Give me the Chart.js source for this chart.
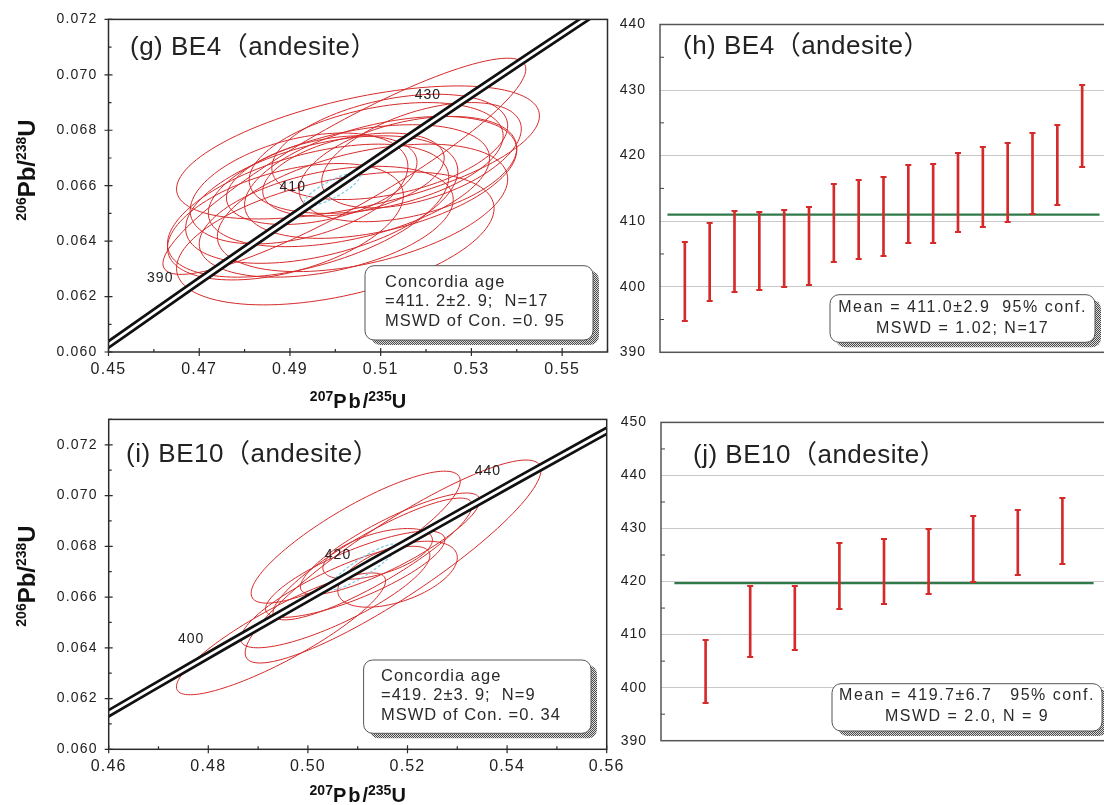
<!DOCTYPE html>
<html>
<head>
<meta charset="utf-8">
<title>BE4 / BE10 zircon U-Pb ages</title>
<script src="https://cdn.jsdelivr.net/npm/chart.js@4.4.1/dist/chart.umd.min.js"></script>
<style>
  html, body { margin: 0; padding: 0; background: #fff; }
  body { width: 1104px; height: 805px; overflow: hidden; position: relative; }
  canvas { position: absolute; }
</style>
</head>
<body>
<canvas id="chartG" width="640" height="412" style="left:0;top:0"></canvas>
<canvas id="chartH" width="520" height="400" style="left:600px;top:0"></canvas>
<canvas id="chartI" width="640" height="405" style="left:0;top:400px"></canvas>
<canvas id="chartJ" width="520" height="405" style="left:600px;top:400px"></canvas>
<script>
// ---- data ----
// concordia curve nodes (Ma) and labelled ages
const CONCORDIA_AGES = [360, 370, 380, 390, 400, 410, 420, 430, 440, 450, 460, 470];
const G_AGE_MARKS = [390, 410, 430];
const I_AGE_MARKS = [400, 420, 440];

// axis ticks
const G_X_TICKS = [0.45, 0.47, 0.49, 0.51, 0.53, 0.55];
const G_Y_TICKS = [0.060, 0.062, 0.064, 0.066, 0.068, 0.070, 0.072];
const I_X_TICKS = [0.46, 0.48, 0.50, 0.52, 0.54, 0.56];
const I_Y_TICKS = [0.060, 0.062, 0.064, 0.066, 0.068, 0.070, 0.072];
const H_Y_TICKS = [390, 400, 410, 420, 430, 440];
const J_Y_TICKS = [390, 400, 410, 420, 430, 440, 450];

// BE4 spot ellipses: 207Pb/235U, 206Pb/238U, 2-sigma half widths, error correlation
const G_ELL_X = [0.502, 0.505, 0.500, 0.489, 0.497, 0.503, 0.492, 0.510, 0.509, 0.506, 0.512, 0.498, 0.494, 0.516, 0.504, 0.497, 0.519];
const G_ELL_Y = [0.0667, 0.0672, 0.0641, 0.0647, 0.0655, 0.0660, 0.0659, 0.0663, 0.0670, 0.0652, 0.0674, 0.0647, 0.0651, 0.0666, 0.0664, 0.0662, 0.0671];
const G_ELL_SX = [0.040, 0.040, 0.035, 0.026, 0.030, 0.031, 0.024, 0.030, 0.028, 0.032, 0.026, 0.028, 0.031, 0.024, 0.020, 0.021, 0.022];
const G_ELL_SY = [0.0039, 0.0024, 0.0024, 0.0021, 0.0023, 0.0022, 0.0020, 0.0022, 0.0020, 0.0023, 0.0019, 0.0020, 0.0024, 0.0019, 0.0015, 0.0016, 0.0019];
const G_ELL_RHO = [0.90, 0.55, 0.45, 0.45, 0.45, 0.45, 0.40, 0.45, 0.40, 0.45, 0.40, 0.40, 0.50, 0.40, 0.40, 0.40, 0.50];

// BE10 spot ellipses
const I_ELL_X = [0.4946, 0.5096, 0.5171, 0.5055, 0.5130, 0.5165, 0.5095, 0.5140, 0.5180];
const I_ELL_Y = [0.06455, 0.06836, 0.0674, 0.0660, 0.0675, 0.0681, 0.0669, 0.0677, 0.0669];
const I_ELL_SX = [0.021, 0.021, 0.0297, 0.019, 0.020, 0.018, 0.018, 0.011, 0.012];
const I_ELL_SY = [0.0024, 0.0026, 0.0040, 0.0020, 0.0024, 0.0020, 0.0017, 0.0010, 0.0013];
const I_ELL_RHO = [0.87, 0.85, 0.90, 0.82, 0.88, 0.85, 0.80, 0.55, 0.50];

// concordia ages
const G_CONC_AGE = 411.2;
const I_CONC_AGE = 419.2;

// 206Pb/238U ages, lower and upper ends of each error bar (Ma)
const H_LOW = [394.8, 397.9, 399.2, 399.5, 399.9, 400.2, 403.7, 404.3, 404.7, 406.6, 406.6, 408.3, 409.1, 409.8, 411.1, 412.5, 418.2];
const H_HIGH = [406.8, 409.7, 411.6, 411.4, 411.7, 412.2, 415.7, 416.3, 416.7, 418.6, 418.7, 420.4, 421.3, 421.9, 423.4, 424.7, 430.7];
const H_MEAN = 411.0;
const J_LOW = [397.2, 405.8, 407.1, 414.9, 415.8, 417.7, 420.0, 421.2, 423.3];
const J_HIGH = [409.0, 419.2, 419.2, 427.2, 428.1, 429.9, 432.4, 433.5, 435.8];
const J_MEAN = 419.7;

// ---- helpers ----
const FONT = "'Liberation Sans', Arial, 'Noto Sans CJK SC', sans-serif";
const RED = '#d62a2a';
const INK = '#222';
const LAMBDA_238 = 1.55125e-10;
const LAMBDA_235 = 9.8485e-10;

function concordiaPoint(ageMa) {
    return {
        x: Math.exp(LAMBDA_235 * ageMa * 1e6) - 1,
        y: Math.exp(LAMBDA_238 * ageMa * 1e6) - 1
    };
}

function strokeEllipse(ctx, xs, ys, cx, cy, sx, sy, rho) {
    const k = Math.sqrt(1 - rho * rho);
    ctx.beginPath();
    for (let i = 0; i <= 120; i++) {
        const a = i / 120 * Math.PI * 2;
        const px = xs.getPixelForValue(cx + sx * Math.cos(a));
        const py = ys.getPixelForValue(cy + sy * (rho * Math.cos(a) + k * Math.sin(a)));
        if (i === 0) ctx.moveTo(px, py); else ctx.lineTo(px, py);
    }
    ctx.closePath();
    ctx.stroke();
}

function minorTicks(majors, min, max) {
    const half = (majors[1] - majors[0]) / 2;
    const out = [];
    majors.forEach(v => {
        [v - half, v + half].forEach(m => {
            if (m > min + 1e-9 && m < max + 1e-9 && !out.some(o => Math.abs(o - m) < 1e-9)) out.push(m);
        });
    });
    return out;
}

function stipple(ctx) {
    const c = document.createElement('canvas');
    c.width = 2; c.height = 2;
    const p = c.getContext('2d');
    p.fillStyle = '#dcdcdc'; p.fillRect(0, 0, 2, 2);
    p.fillStyle = '#4a4a4a'; p.fillRect(0, 0, 1, 1); p.fillRect(1, 1, 1, 1);
    return ctx.createPattern(c, 'repeat');
}

function drawNoteBox(ctx, b, lines, o) {
    ctx.save();
    ctx.fillStyle = stipple(ctx);
    ctx.beginPath(); ctx.roundRect(b.x + 6, b.y + 5, b.w, b.h, 9); ctx.fill();
    ctx.fillStyle = '#fff'; ctx.strokeStyle = '#555'; ctx.lineWidth = 1;
    ctx.beginPath(); ctx.roundRect(b.x, b.y, b.w, b.h, 9); ctx.fill(); ctx.stroke();
    ctx.fillStyle = '#2a2a2a';
    ctx.font = o.font; ctx.letterSpacing = o.sp + 'px';
    ctx.textBaseline = 'middle'; ctx.textAlign = o.align;
    lines.forEach((t, i) => {
        const tx = o.align === 'center' ? b.x + b.w / 2 : b.x + o.pad;
        ctx.fillText(t, tx, b.y + o.top + i * o.lh);
    });
    ctx.restore();
}

// text made of runs with different sizes (isotope superscripts)
function drawRuns(ctx, runs, cx, baseY) {
    let total = 0;
    runs.forEach(r => {
        ctx.font = r.font; ctx.letterSpacing = (r.sp || 0) + 'px';
        r.w = ctx.measureText(r.t).width; total += r.w;
    });
    let x = cx - total / 2;
    ctx.textAlign = 'left'; ctx.textBaseline = 'alphabetic';
    runs.forEach(r => {
        ctx.font = r.font; ctx.letterSpacing = (r.sp || 0) + 'px';
        ctx.fillText(r.t, x, baseY - (r.rise || 0));
        x += r.w;
    });
}

function isotopeRuns(a, b, big, small, rise, sp) {
    const B = 'bold ' + big + 'px ' + FONT, S = 'bold ' + small + 'px ' + FONT;
    return [
        { t: a, font: S, rise: rise }, { t: 'Pb', font: B, sp: sp },
        { t: '/', font: B }, { t: b, font: S, rise: rise }, { t: 'U', font: B }
    ];
}

function drawTitle(ctx, text, x, y) {
    ctx.save();
    ctx.fillStyle = INK;
    ctx.font = '26px ' + FONT; ctx.letterSpacing = '0.5px';
    ctx.textAlign = 'left'; ctx.textBaseline = 'alphabetic';
    ctx.fillText(text, x, y);
    ctx.restore();
}

// ---- concordia panels ----
function concordiaPanel(p) {
    return {
        id: 'concordiaPanel',
        beforeDraw(chart) { chart.ctx.letterSpacing = '1.2px'; },
        beforeDatasetsDraw(chart) {
            const { ctx, chartArea: a, scales: { x, y } } = chart;
            ctx.save();
            ctx.beginPath(); ctx.rect(a.left, a.top, a.right - a.left, a.bottom - a.top); ctx.clip();
            ctx.strokeStyle = RED; ctx.lineWidth = 1;
            p.ellX.forEach((cx, i) => strokeEllipse(ctx, x, y, cx, p.ellY[i], p.ellSx[i], p.ellSy[i], p.ellRho[i]));
            const m = concordiaPoint(p.meanAge);
            ctx.strokeStyle = '#86cde6'; ctx.lineWidth = 1.3; ctx.setLineDash([3, 2]);
            strokeEllipse(ctx, x, y, m.x, m.y, p.meanSx, p.meanSy, p.meanRho);
            ctx.restore();
        },
        afterDraw(chart) {
            const { ctx, chartArea: a, scales: { x, y } } = chart;
            ctx.save();
            // age labels on the concordia
            ctx.fillStyle = INK; ctx.font = '14px ' + FONT; ctx.letterSpacing = '1px';
            ctx.textAlign = 'right'; ctx.textBaseline = 'middle';
            p.ageMarks.forEach(t => {
                const c = concordiaPoint(t);
                ctx.fillText(String(t), x.getPixelForValue(c.x) - 18, y.getPixelForValue(c.y) - 8);
            });
            // frame and ticks
            ctx.strokeStyle = '#2b2b2b'; ctx.lineWidth = 1.5;
            ctx.strokeRect(a.left, a.top, a.right - a.left, a.bottom - a.top);
            ctx.lineWidth = 1.2;
            ctx.beginPath();
            p.xTicks.forEach(v => { const px = x.getPixelForValue(v); ctx.moveTo(px, a.bottom - 4); ctx.lineTo(px, a.bottom + 4); });
            p.yTicks.forEach(v => { const py = y.getPixelForValue(v); ctx.moveTo(a.left - 4, py); ctx.lineTo(a.left + 4, py); });
            minorTicks(p.xTicks, x.min, x.max).forEach(v => { const px = x.getPixelForValue(v); ctx.moveTo(px, a.bottom); ctx.lineTo(px, a.bottom - 3); });
            minorTicks(p.yTicks, y.min, y.max).forEach(v => { const py = y.getPixelForValue(v); ctx.moveTo(a.left, py); ctx.lineTo(a.left + 3, py); });
            ctx.stroke();
            ctx.restore();

            drawTitle(ctx, p.title, p.titleX, p.titleY);
            drawNoteBox(ctx, p.box, p.boxLines, { font: '16.5px ' + FONT, sp: 1, align: 'left', pad: p.box.pad, top: 16.3, lh: 19.5 });

            // axis titles
            ctx.save();
            ctx.fillStyle = '#111';
            drawRuns(ctx, isotopeRuns('207', '235', 20, 14, 7, 2), (a.left + a.right) / 2, a.bottom + p.xTitleDy);
            ctx.translate(35, p.yTitleCy);
            ctx.rotate(-Math.PI / 2);
            drawRuns(ctx, isotopeRuns('206', '238', 24, 14, 9, 0), 0, 0);
            ctx.restore();
        }
    };
}

function concordiaChart(id, p) {
    const canvas = document.getElementById(id);
    const W = canvas.width, H = canvas.height, ar = p.area;
    const pts = CONCORDIA_AGES.map(concordiaPoint);
    return new Chart(canvas, {
        type: 'scatter',
        data: {
            datasets: [
                { data: pts, showLine: true, borderColor: '#fff', borderWidth: 2.8, pointRadius: 0, clip: 0, order: 0 },
                { data: pts, showLine: true, borderColor: '#111', borderWidth: 8.2, pointRadius: 0, clip: 0, order: 1 }
            ]
        },
        options: {
            responsive: false,
            animation: false,
            events: [],
            layout: { padding: { left: 0, top: ar.t, right: W - ar.r, bottom: 0 } },
            plugins: { legend: { display: false }, tooltip: { enabled: false } },
            scales: {
                x: {
                    type: 'linear', min: p.xMin, max: p.xMax,
                    afterBuildTicks: s => { s.ticks = p.xTicks.map(v => ({ value: v })); },
                    afterFit: s => { s.height = H - ar.b; },
                    grid: { display: false, drawTicks: false }, border: { display: false },
                    ticks: { font: { family: FONT, size: 16 }, color: INK, padding: 8, maxRotation: 0, autoSkip: false, callback: v => v.toFixed(2) }
                },
                y: {
                    type: 'linear', min: p.yMin, max: p.yMax,
                    afterBuildTicks: s => { s.ticks = p.yTicks.map(v => ({ value: v })); },
                    afterFit: s => { s.width = ar.l; },
                    grid: { display: false, drawTicks: false }, border: { display: false },
                    ticks: { font: { family: FONT, size: 14 }, color: INK, padding: 11, autoSkip: false, callback: v => v.toFixed(3) }
                }
            }
        },
        plugins: [concordiaPanel(p)]
    });
}

concordiaChart('chartG', {
    area: { l: 108.5, t: 16, r: 607.5, b: 352 },
    xMin: 0.45, xMax: 0.56, yMin: 0.060, yMax: 0.072,
    xTicks: G_X_TICKS, yTicks: G_Y_TICKS,
    ellX: G_ELL_X, ellY: G_ELL_Y, ellSx: G_ELL_SX, ellSy: G_ELL_SY, ellRho: G_ELL_RHO,
    meanAge: G_CONC_AGE, meanSx: 0.0062, meanSy: 0.0006, meanRho: 0.82,
    ageMarks: G_AGE_MARKS,
    title: '(g) BE4（andesite）', titleX: 130, titleY: 55,
    box: { x: 365, y: 265.7, w: 228, h: 74.3, pad: 20 },
    boxLines: ['Concordia age', '=411. 2±2. 9;  N=17', 'MSWD of Con. =0. 95'],
    xTitleDy: 56, yTitleCy: 170
});

concordiaChart('chartI', {
    area: { l: 108.7, t: 10, r: 606.7, b: 349.3 },
    xMin: 0.46, xMax: 0.56, yMin: 0.060, yMax: 0.073,
    xTicks: I_X_TICKS, yTicks: I_Y_TICKS,
    ellX: I_ELL_X, ellY: I_ELL_Y, ellSx: I_ELL_SX, ellSy: I_ELL_SY, ellRho: I_ELL_RHO,
    meanAge: I_CONC_AGE, meanSx: 0.0068, meanSy: 0.0009, meanRho: 0.9,
    ageMarks: I_AGE_MARKS,
    title: '(i) BE10（andesite）', titleX: 126, titleY: 62,
    box: { x: 363.6, y: 260, w: 227.4, h: 73.3, pad: 17.4 },
    boxLines: ['Concordia age', '=419. 2±3. 9;  N=9', 'MSWD of Con. =0. 34'],
    xTitleDy: 53, yTitleCy: 176
});

// ---- weighted mean age panels ----
function agePanel(p) {
    return {
        id: 'agePanel',
        beforeDraw(chart) { chart.ctx.letterSpacing = '1px'; },
        beforeDatasetsDraw(chart) {
            const { ctx, scales: { x, y } } = chart;
            const py = y.getPixelForValue(p.mean);
            ctx.save();
            ctx.strokeStyle = '#2f7a48'; ctx.lineWidth = 2.4;
            ctx.beginPath();
            ctx.moveTo(x.getPixelForValue(x.min + 0.3), py);
            ctx.lineTo(x.getPixelForValue(x.max - 0.3), py);
            ctx.stroke();
            ctx.restore();
        },
        afterDatasetsDraw(chart) {
            const { ctx, scales: { x, y } } = chart;
            ctx.save();
            ctx.strokeStyle = RED; ctx.lineWidth = 2;
            ctx.beginPath();
            p.low.forEach((lo, i) => {
                const px = x.getPixelForValue(i + 1);
                [lo, p.high[i]].forEach(v => {
                    const py = Math.round(y.getPixelForValue(v));
                    ctx.moveTo(px - 3, py); ctx.lineTo(px + 3, py);
                });
            });
            ctx.stroke();
            ctx.restore();
        },
        afterDraw(chart) {
            const { ctx, chartArea: a, scales: { y } } = chart;
            ctx.save();
            ctx.strokeStyle = '#555'; ctx.lineWidth = 1.5;
            ctx.strokeRect(a.left, a.top, a.right - a.left, a.bottom - a.top);
            ctx.lineWidth = 1; ctx.strokeStyle = '#444';
            ctx.beginPath();
            minorTicks(p.yTicks, y.min, y.max).forEach(v => {
                const py = y.getPixelForValue(v);
                ctx.moveTo(a.left, py); ctx.lineTo(a.left + 4, py);
            });
            ctx.stroke();
            ctx.restore();
            drawTitle(ctx, p.title, p.titleX, p.titleY);
            drawNoteBox(ctx, p.box, p.boxLines, { font: '16px ' + FONT, sp: 1.5, align: 'center', top: p.box.top, lh: 21 });
        }
    };
}

function ageChart(id, p) {
    const canvas = document.getElementById(id);
    const W = canvas.width, H = canvas.height, ar = p.area;
    return new Chart(canvas, {
        type: 'bar',
        data: {
            datasets: [{
                data: p.low.map((lo, i) => ({ x: i + 1, y: [lo, p.high[i]] })),
                backgroundColor: RED,
                barThickness: 2,
                borderSkipped: false
            }]
        },
        options: {
            responsive: false,
            animation: false,
            events: [],
            layout: { padding: { left: 0, top: ar.t, right: W - ar.r, bottom: H - ar.b } },
            plugins: { legend: { display: false }, tooltip: { enabled: false } },
            scales: {
                x: { type: 'linear', min: 0, max: p.low.length + 1, offset: false, display: false },
                y: {
                    min: p.yTicks[0], max: p.yTicks[p.yTicks.length - 1],
                    afterBuildTicks: s => { s.ticks = p.yTicks.map(v => ({ value: v })); },
                    afterFit: s => { s.width = ar.l; },
                    grid: { color: '#c9c9c9', lineWidth: 1, drawTicks: false }, border: { display: false },
                    ticks: { font: { family: FONT, size: 14 }, color: INK, padding: 14, autoSkip: false }
                }
            }
        },
        plugins: [agePanel(p)]
    });
}

ageChart('chartH', {
    area: { l: 60, t: 24.5, r: 507, b: 352.3 },
    low: H_LOW, high: H_HIGH, mean: H_MEAN, yTicks: H_Y_TICKS,
    title: '(h) BE4（andesite）', titleX: 83, titleY: 54,
    box: { x: 230, y: 294.7, w: 265, h: 47.6, top: 12.6 },
    boxLines: ['Mean = 411.0±2.9  95% conf.', 'MSWD = 1.02; N=17']
});

ageChart('chartJ', {
    area: { l: 61, t: 18.3, r: 507, b: 340.7 },
    low: J_LOW, high: J_HIGH, mean: J_MEAN, yTicks: J_Y_TICKS,
    title: '(j) BE10（andesite）', titleX: 93, titleY: 63,
    box: { x: 232, y: 283.7, w: 270, h: 47.3, top: 12.3 },
    boxLines: ['Mean = 419.7±6.7   95% conf.', 'MSWD = 2.0, N = 9']
});
</script>
</body>
</html>
